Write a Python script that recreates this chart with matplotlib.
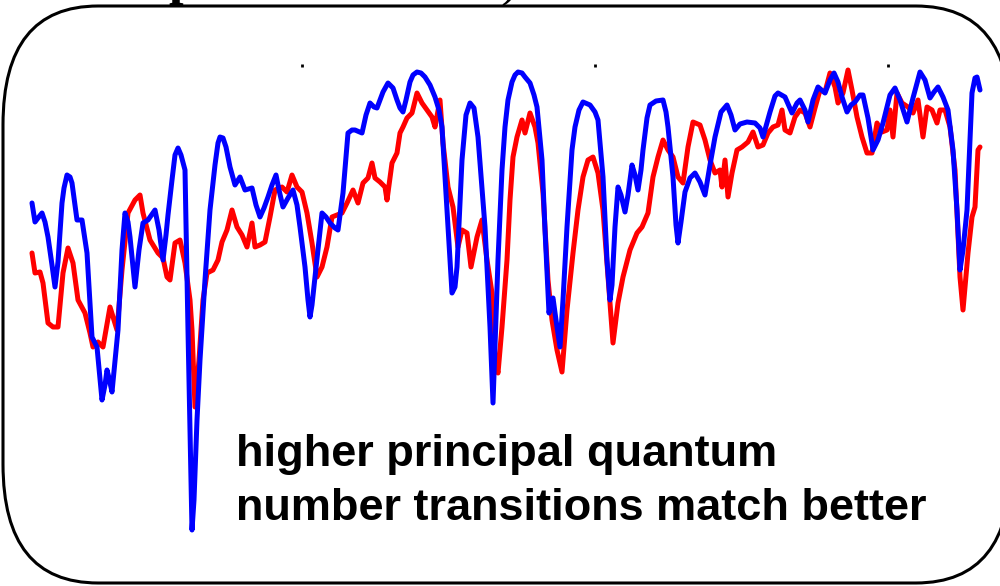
import matplotlib
matplotlib.use("Agg")
import matplotlib.pyplot as plt
from matplotlib.patches import FancyBboxPatch

# Measured spectrum (red, noisy) and simulated spectrum (blue, smooth).
# Positions in arbitrary wavelength units, signal plotted on an inverted axis.
exp_x = [32, 35, 40, 43, 48, 53, 58, 63, 68, 73, 78, 85, 90, 93, 98, 103, 110, 117,
         122, 128, 135, 140, 143, 150, 158, 163, 167, 170, 175, 180, 185, 190, 192,
         195, 199, 203, 207, 213, 218, 222, 227, 232, 237, 242, 247, 252, 255, 260,
         265, 270, 275, 282, 287, 292, 297, 302, 307, 312, 317, 322, 327, 332, 337,
         342, 347, 353, 358, 363, 368, 372, 375, 380, 385, 387, 392, 397, 400, 403,
         407, 412, 417, 422, 427, 432, 435, 440, 443, 448, 453, 458, 462, 467, 471,
         477, 482, 487, 492, 495, 498, 502, 507, 510, 513, 517, 522, 525, 530, 535,
         538, 543, 548, 552, 557, 562, 567, 573, 578, 583, 588, 593, 598, 603, 608,
         613, 618, 623, 630, 637, 642, 648, 653, 658, 663, 668, 673, 678, 683, 688,
         693, 700, 705, 710, 715, 720, 722, 725, 728, 732, 737, 742, 748, 753, 758,
         763, 768, 773, 778, 782, 785, 790, 795, 800, 805, 810, 815, 820, 825, 830,
         835, 838, 843, 848, 852, 857, 862, 867, 872, 877, 882, 887, 890, 893, 897,
         902, 908, 913, 918, 923, 927, 932, 937, 940, 945, 950, 955, 960, 963, 968,
         972, 975, 978, 980]
exp_y = [253, 273, 272, 283, 323, 327, 327, 273, 248, 263, 300, 313, 333, 347, 342, 347,
         307, 330, 270, 213, 200, 195, 213, 240, 253, 258, 277, 280, 243, 240, 263, 300,
         330, 407, 360, 300, 273, 270, 260, 242, 230, 210, 227, 235, 247, 223, 247, 245,
         242, 217, 190, 187, 192, 175, 187, 192, 213, 243, 277, 267, 247, 217, 215, 213,
         203, 190, 203, 183, 178, 163, 178, 182, 187, 200, 163, 153, 133, 127, 118, 113,
         93, 103, 110, 117, 127, 100, 143, 187, 207, 247, 230, 233, 267, 237, 220, 260,
         293, 360, 373, 327, 260, 200, 157, 137, 120, 133, 113, 127, 143, 193, 280, 320,
         350, 372, 310, 253, 210, 177, 160, 157, 173, 210, 277, 343, 303, 277, 250, 233,
         227, 213, 177, 157, 140, 150, 157, 177, 183, 147, 122, 125, 140, 160, 173, 170,
         187, 160, 197, 173, 150, 147, 142, 132, 147, 145, 133, 127, 125, 110, 130, 133,
         117, 110, 113, 127, 108, 90, 92, 73, 87, 103, 93, 70, 90, 117, 137, 153, 153,
         123, 132, 130, 110, 137, 93, 103, 107, 113, 100, 137, 107, 110, 123, 110, 110,
         127, 170, 277, 310, 253, 217, 207, 150, 147]

sim_x = [32, 35, 38, 42, 45, 48, 52, 55, 58, 62, 64, 67, 70, 72, 77, 82, 87, 92, 97,
         102, 105, 107, 109, 112, 118, 122, 125, 128, 130, 135, 139, 143, 148, 155,
         159, 163, 166, 168, 172, 175, 178, 181, 185, 188, 192, 194, 197, 200, 205,
         210, 215, 218, 220, 223, 226, 230, 235, 240, 245, 252, 256, 260, 264, 268,
         272, 276, 279, 283, 288, 293, 297, 300, 305, 308, 310, 312, 315, 322, 326,
         330, 335, 338, 343, 348, 352, 355, 362, 366, 370, 374, 377, 383, 388, 393,
         397, 400, 403, 406, 410, 413, 417, 421, 425, 430, 435, 439, 442, 447, 452,
         455, 457, 462, 466, 470, 474, 478, 485, 490, 493, 498, 502, 505, 508, 512,
         515, 518, 522, 525, 530, 534, 537, 542, 545, 549, 551, 553, 556, 560, 563,
         567, 572, 575, 579, 583, 590, 595, 598, 603, 607, 610, 612, 615, 618, 621,
         625, 628, 632, 635, 638, 641, 643, 647, 650, 656, 663, 666, 668, 673, 676,
         678, 681, 685, 690, 695, 700, 705, 710, 715, 721, 727, 731, 735, 740, 747,
         755, 760, 763, 770, 775, 778, 785, 792, 797, 800, 805, 808, 813, 818, 825,
         830, 834, 838, 842, 847, 851, 855, 860, 863, 868, 873, 878, 883, 890, 895,
         900, 907, 913, 920, 925, 930, 934, 938, 943, 948, 953, 957, 960, 963, 967,
         970, 972, 975, 977, 980]
sim_y = [203, 222, 218, 213, 222, 237, 265, 287, 262, 203, 188, 175, 177, 183, 220, 220,
         253, 337, 347, 400, 385, 370, 378, 392, 330, 250, 213, 222, 237, 287, 250, 223,
         220, 210, 230, 260, 235, 215, 180, 155, 148, 155, 170, 330, 530, 500, 420, 360,
         280, 210, 165, 143, 137, 138, 147, 167, 185, 177, 190, 188, 205, 217, 208, 197,
         185, 175, 190, 207, 198, 190, 205, 227, 267, 300, 317, 305, 277, 213, 217, 223,
         228, 230, 193, 133, 130, 130, 133, 115, 103, 107, 108, 92, 83, 88, 100, 108, 112,
         100, 82, 75, 72, 73, 77, 85, 97, 110, 127, 210, 293, 287, 267, 160, 115, 103, 108,
         137, 227, 327, 403, 260, 170, 127, 100, 82, 75, 72, 73, 77, 83, 95, 107, 160,
         230, 313, 302, 298, 320, 347, 300, 227, 150, 127, 110, 102, 105, 112, 120, 177,
         260, 300, 285, 227, 187, 195, 212, 195, 165, 175, 190, 170, 150, 118, 105, 101,
         100, 112, 127, 177, 225, 243, 222, 192, 178, 173, 182, 195, 165, 137, 112, 105,
         115, 130, 124, 122, 123, 128, 137, 112, 96, 93, 97, 113, 103, 100, 110, 122, 100,
         87, 93, 80, 73, 82, 97, 112, 105, 102, 95, 95, 118, 150, 140, 123, 95, 88, 100,
         122, 98, 72, 80, 98, 92, 87, 97, 110, 150, 210, 270, 250, 210, 140, 93, 78, 77,
         90]

tick_pos = [302, 595, 888]

fig = plt.figure(figsize=(10, 5.86), dpi=100)

# background layer in pixel units for the rounded frame and the text
bg = fig.add_axes([0, 0, 1, 1])
bg.set_xlim(0, 1000)
bg.set_ylim(586, 0)
bg.axis("off")
frame = FancyBboxPatch((3, 6), 1008, 577,
                       boxstyle="round,pad=0,rounding_size=95",
                       mutation_aspect=1.25,
                       facecolor="white", edgecolor="black", linewidth=2.2,
                       clip_on=False, zorder=1)
bg.add_patch(frame)

# bits of the heading sitting above the frame
bg.text(168, -6, "p", fontsize=38, fontweight="bold", family="Liberation Serif",
        ha="left", va="baseline", zorder=0)
bg.text(500, -4, ")", fontsize=38, family="Liberation Serif",
        ha="left", va="baseline", zorder=0)

bg.text(236, 466, "higher principal quantum", fontsize=32.5, fontweight="bold",
        family="Liberation Sans", ha="left", va="baseline", zorder=3)
bg.text(236, 520, "number transitions match better", fontsize=32.5, fontweight="bold",
        family="Liberation Sans", ha="left", va="baseline", zorder=3)

# spectra
ax = fig.add_axes([0, 0, 1, (586 - 64) / 586])
ax.patch.set_alpha(0)
ax.plot(exp_x, exp_y, color="#ff0000", linewidth=3.6, solid_joinstyle="round",
        solid_capstyle="round")
ax.plot(sim_x, sim_y, color="#0000ff", linewidth=3.6, solid_joinstyle="round",
        solid_capstyle="round")
ax.set_xlim(0, 1000)
ax.set_ylim(586, 64)
for s in ax.spines.values():
    s.set_visible(False)
ax.set_yticks([])
ax.set_xticks(tick_pos)
ax.tick_params(axis="x", top=True, bottom=False, labeltop=False, labelbottom=False,
               direction="in", length=1.8, width=2, color="black")

fig.savefig("out.png", dpi=100)
